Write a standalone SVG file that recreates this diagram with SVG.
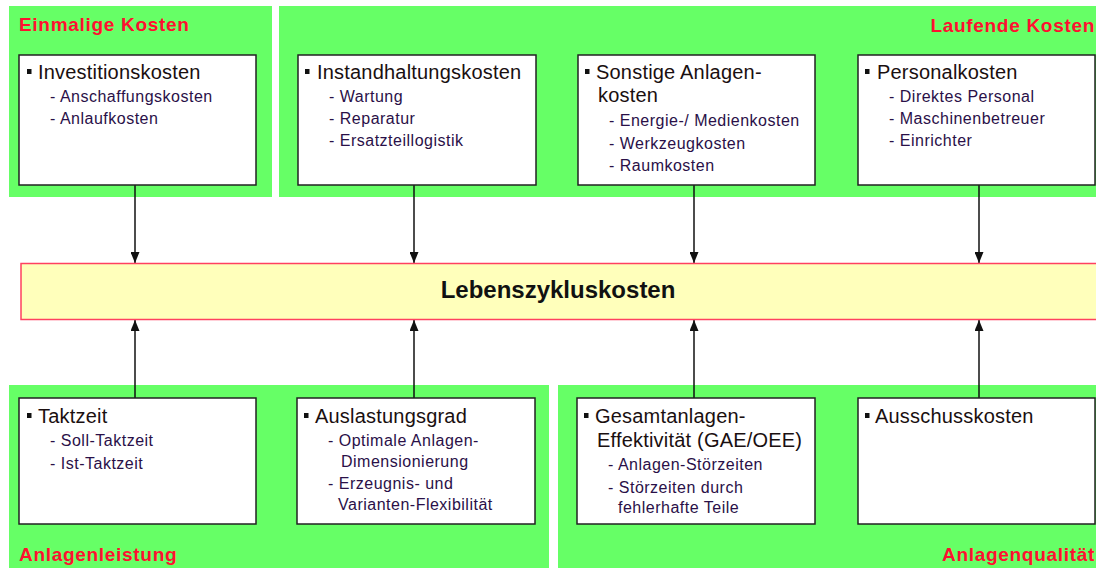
<svg xmlns="http://www.w3.org/2000/svg" width="1096" height="568" viewBox="0 0 1096 568">
<style>
.panel{fill:#66FF66}
.box{fill:#FFFFFF;stroke:#222;stroke-width:1.5}
.title{font-family:"Liberation Sans",Arial,sans-serif;font-weight:bold;font-size:19px;fill:#FF1030;letter-spacing:0.7px}
.head{font-family:"Liberation Sans",Arial,sans-serif;font-size:20px;fill:#1a0f10;letter-spacing:0.2px}
.sub{font-family:"Liberation Sans",Arial,sans-serif;font-size:16px;fill:#2a1048;letter-spacing:0.5px}
.bul{fill:#111}
.conn{stroke:#111;stroke-width:1.5;fill:none;marker-end:url(#ah)}
</style>
<defs>
<marker id="ah" viewBox="0 0 10 10" refX="10" refY="5" markerWidth="11" markerHeight="9" markerUnits="userSpaceOnUse" orient="auto" preserveAspectRatio="none">
<path d="M0,0 L10,5 L0,10 z" fill="#111"/>
</marker>
</defs>
<rect width="1096" height="568" fill="#FFFFFF"/>
<g id="panels">
<rect class="panel" x="9" y="6" width="263" height="191"/>
<rect class="panel" x="279" y="6" width="820" height="191"/>
<rect class="panel" x="9" y="385" width="540" height="183"/>
<rect class="panel" x="558" y="385" width="540" height="183"/>
<text class="title" x="19" y="31">Einmalige Kosten</text>
<text class="title" x="1095" y="32" text-anchor="end" letter-spacing="0.5">Laufende Kosten</text>
<text class="title" x="19" y="561">Anlagenleistung</text>
<text class="title" x="1095" y="561" text-anchor="end" letter-spacing="0.5">Anlagenqualität</text>
</g>
<g id="connectors">
<line class="conn" x1="135" y1="185" x2="135" y2="263"/>
<line class="conn" x1="414" y1="185" x2="414" y2="263"/>
<line class="conn" x1="694" y1="185" x2="694" y2="263"/>
<line class="conn" x1="979" y1="185" x2="979" y2="263"/>
<line class="conn" x1="135" y1="398" x2="135" y2="320"/>
<line class="conn" x1="414" y1="398" x2="414" y2="320"/>
<line class="conn" x1="694" y1="398" x2="694" y2="320"/>
<line class="conn" x1="979" y1="398" x2="979" y2="320"/>
</g>
<g id="center">
<rect x="21" y="263.5" width="1080" height="56" fill="#FFFFBB" stroke="#FF4060" stroke-width="1.5"/>
<text x="558" y="298" text-anchor="middle" font-family="'Liberation Sans',Arial,sans-serif" font-weight="bold" font-size="24" fill="#111">Lebenszykluskosten</text>
</g>
<g id="n-invest">
<rect class="box" x="19" y="55" width="237" height="130"/>
<rect class="bul" x="27" y="69" width="4.5" height="5"/>
<text class="head" x="38" y="79">Investitionskosten</text>
<text class="sub" x="50" y="102">- Anschaffungskosten</text>
<text class="sub" x="50" y="124">- Anlaufkosten</text>
</g>
<g id="n-instand">
<rect class="box" x="298" y="55" width="238" height="130"/>
<rect class="bul" x="305" y="69" width="4.5" height="5"/>
<text class="head" x="317" y="79">Instandhaltungskosten</text>
<text class="sub" x="329" y="102">- Wartung</text>
<text class="sub" x="329" y="124">- Reparatur</text>
<text class="sub" x="329" y="146">- Ersatzteillogistik</text>
</g>
<g id="n-sonstige">
<rect class="box" x="578" y="55" width="237" height="130"/>
<rect class="bul" x="585" y="69" width="4.5" height="5"/>
<text class="head" x="596" y="79">Sonstige Anlagen-</text>
<text class="head" x="598" y="102">kosten</text>
<text class="sub" x="609" y="126">- Energie-/ Medienkosten</text>
<text class="sub" x="609" y="149">- Werkzeugkosten</text>
<text class="sub" x="609" y="171">- Raumkosten</text>
</g>
<g id="n-personal">
<rect class="box" x="858" y="55" width="237" height="130"/>
<rect class="bul" x="865" y="69" width="4.5" height="5"/>
<text class="head" x="877" y="79">Personalkosten</text>
<text class="sub" x="889" y="102">- Direktes Personal</text>
<text class="sub" x="889" y="124">- Maschinenbetreuer</text>
<text class="sub" x="889" y="146">- Einrichter</text>
</g>
<g id="n-takt">
<rect class="box" x="19" y="398" width="237" height="126"/>
<rect class="bul" x="27" y="413" width="4.5" height="5"/>
<text class="head" x="38" y="423">Taktzeit</text>
<text class="sub" x="50" y="446">- Soll-Taktzeit</text>
<text class="sub" x="50" y="469">- Ist-Taktzeit</text>
</g>
<g id="n-auslast">
<rect class="box" x="297" y="398" width="238" height="126"/>
<rect class="bul" x="304" y="413" width="4.5" height="5"/>
<text class="head" x="315" y="423">Auslastungsgrad</text>
<text class="sub" x="328" y="446">- Optimale Anlagen-</text>
<text class="sub" x="341" y="467">Dimensionierung</text>
<text class="sub" x="328" y="489">- Erzeugnis- und</text>
<text class="sub" x="338" y="510">Varianten-Flexibilität</text>
</g>
<g id="n-gae">
<rect class="box" x="577" y="398" width="238" height="126"/>
<rect class="bul" x="584" y="413" width="4.5" height="5"/>
<text class="head" x="595" y="423">Gesamtanlagen-</text>
<text class="head" x="597" y="447">Effektivität (GAE/OEE)</text>
<text class="sub" x="608" y="470">- Anlagen-Störzeiten</text>
<text class="sub" x="608" y="493">- Störzeiten durch</text>
<text class="sub" x="618" y="513">fehlerhafte Teile</text>
</g>
<g id="n-ausschuss">
<rect class="box" x="858" y="398" width="237" height="126"/>
<rect class="bul" x="865" y="413" width="4.5" height="5"/>
<text class="head" x="875" y="423">Ausschusskosten</text>
</g>
</svg>
